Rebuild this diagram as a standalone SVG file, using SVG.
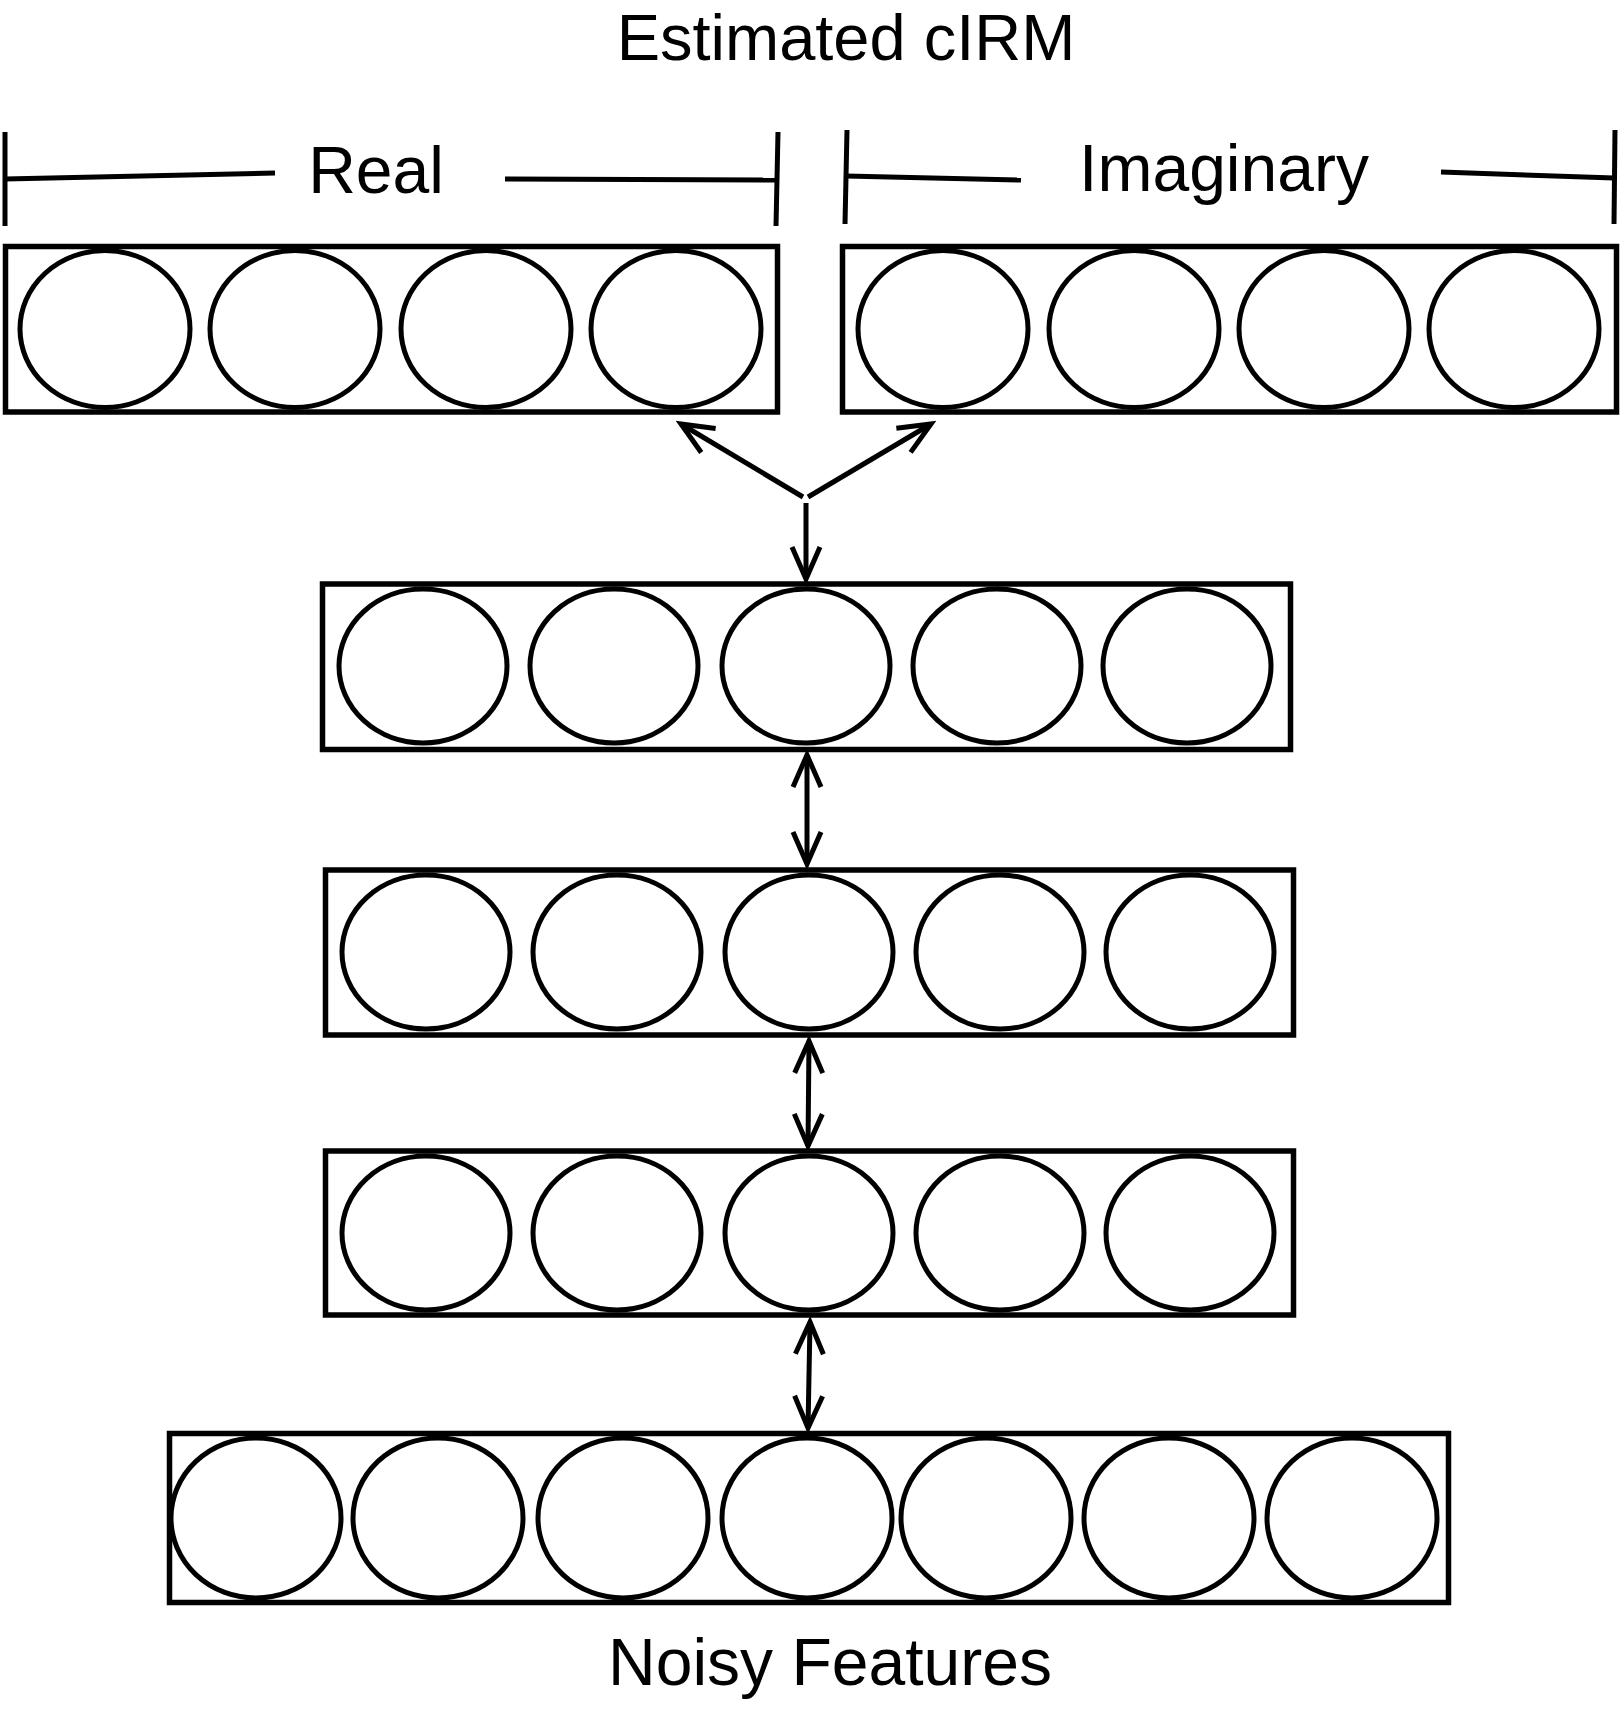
<svg xmlns="http://www.w3.org/2000/svg" width="1622" height="1722" viewBox="0 0 1622 1722">
<style>
  .box { fill: none; stroke: #000; stroke-width: 5.5; }
  .cell { fill: none; stroke: #000; stroke-width: 5; }
  .ln { fill: none; stroke: #000; stroke-width: 5; stroke-linecap: butt; }
  .lbl { font-family: "Liberation Sans", Arial, Helvetica, sans-serif; font-size: 66px; fill: #000; text-anchor: middle; }
</style>
<defs>
  <marker id="arr" viewBox="-40 -20 46 40" refX="0" refY="0" markerWidth="46" markerHeight="40" markerUnits="userSpaceOnUse" orient="auto-start-reverse">
    <path d="M -32 -14 L 0 0 L -32 14" fill="none" stroke="#000" stroke-width="5" stroke-linejoin="miter"/>
  </marker>
</defs>
<rect width="1622" height="1722" fill="#fff"/>

<g id="title"><text class="lbl" x="846" y="60" style="font-size:65px">Estimated cIRM</text></g>

<g id="real-bracket">
  <line class="ln" x1="5" y1="132" x2="5" y2="226"/>
  <line class="ln" x1="5" y1="179" x2="275" y2="173"/>
  <line class="ln" x1="505" y1="179" x2="776" y2="180"/>
  <line class="ln" x1="778" y1="132" x2="776" y2="226"/>
  <text class="lbl" x="376" y="193">Real</text>
</g>

<g id="imag-bracket">
  <line class="ln" x1="847" y1="130" x2="845" y2="224"/>
  <line class="ln" x1="846" y1="176" x2="1021" y2="180"/>
  <line class="ln" x1="1441" y1="172" x2="1614" y2="178"/>
  <line class="ln" x1="1615" y1="130" x2="1614" y2="224"/>
  <text class="lbl" x="1224" y="191">Imaginary</text>
</g>

<g id="real-layer">
  <rect class="box" x="5.5" y="246.5" width="772" height="165.5"/>
  <ellipse class="cell" cx="105" cy="329" rx="85" ry="78.5"/>
  <ellipse class="cell" cx="295" cy="329" rx="85" ry="78.5"/>
  <ellipse class="cell" cx="486" cy="329" rx="85" ry="78.5"/>
  <ellipse class="cell" cx="676" cy="329" rx="85" ry="78.5"/>
</g>

<g id="imag-layer">
  <rect class="box" x="842.5" y="246.5" width="774" height="165.5"/>
  <ellipse class="cell" cx="943" cy="329" rx="85" ry="78.5"/>
  <ellipse class="cell" cx="1134" cy="329" rx="85" ry="78.5"/>
  <ellipse class="cell" cx="1324" cy="329" rx="85" ry="78.5"/>
  <ellipse class="cell" cx="1514" cy="329" rx="85" ry="78.5"/>
</g>

<g id="hidden-1">
  <rect class="box" x="322.5" y="584" width="968" height="165.5"/>
  <ellipse class="cell" cx="423" cy="666" rx="84" ry="77"/>
  <ellipse class="cell" cx="614" cy="666" rx="84" ry="77"/>
  <ellipse class="cell" cx="806" cy="666" rx="84" ry="77"/>
  <ellipse class="cell" cx="997" cy="666" rx="84" ry="77"/>
  <ellipse class="cell" cx="1187" cy="666" rx="84" ry="77"/>
</g>

<g id="hidden-2">
  <rect class="box" x="325.5" y="870" width="968" height="165"/>
  <ellipse class="cell" cx="426" cy="952" rx="84" ry="77"/>
  <ellipse class="cell" cx="617" cy="952" rx="84" ry="77"/>
  <ellipse class="cell" cx="809" cy="952" rx="84" ry="77"/>
  <ellipse class="cell" cx="1000" cy="952" rx="84" ry="77"/>
  <ellipse class="cell" cx="1190" cy="952" rx="84" ry="77"/>
</g>

<g id="hidden-3">
  <rect class="box" x="325.5" y="1151" width="968" height="164"/>
  <ellipse class="cell" cx="426" cy="1233" rx="84" ry="77"/>
  <ellipse class="cell" cx="617" cy="1233" rx="84" ry="77"/>
  <ellipse class="cell" cx="809" cy="1233" rx="84" ry="77"/>
  <ellipse class="cell" cx="1000" cy="1233" rx="84" ry="77"/>
  <ellipse class="cell" cx="1190" cy="1233" rx="84" ry="77"/>
</g>

<g id="input-layer">
  <rect class="box" x="169.5" y="1433.5" width="1279" height="169"/>
  <ellipse class="cell" cx="256" cy="1518" rx="85" ry="80"/>
  <ellipse class="cell" cx="438" cy="1518" rx="85" ry="80"/>
  <ellipse class="cell" cx="623" cy="1518" rx="85" ry="80"/>
  <ellipse class="cell" cx="807" cy="1518" rx="85" ry="80"/>
  <ellipse class="cell" cx="986" cy="1518" rx="85" ry="80"/>
  <ellipse class="cell" cx="1169" cy="1518" rx="85" ry="80"/>
  <ellipse class="cell" cx="1352" cy="1518" rx="85" ry="80"/>
  <text class="lbl" x="830" y="1685">Noisy Features</text>
</g>

<g id="connectors">
  <line class="ln" x1="803" y1="497" x2="681" y2="424" marker-end="url(#arr)"/>
  <line class="ln" x1="808" y1="497" x2="931" y2="424" marker-end="url(#arr)"/>
  <line class="ln" x1="806" y1="503" x2="806" y2="579" marker-end="url(#arr)"/>
  <line class="ln" x1="807" y1="755" x2="807" y2="864" marker-start="url(#arr)" marker-end="url(#arr)"/>
  <line class="ln" x1="809" y1="1041" x2="808" y2="1146" marker-start="url(#arr)" marker-end="url(#arr)"/>
  <line class="ln" x1="810" y1="1322" x2="808" y2="1428" marker-start="url(#arr)" marker-end="url(#arr)"/>
</g>
</svg>
